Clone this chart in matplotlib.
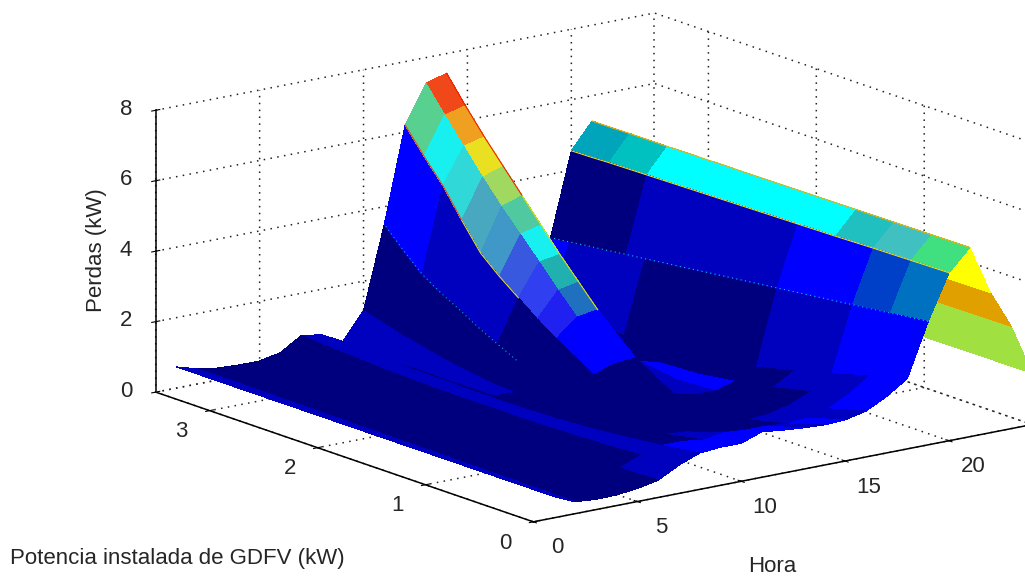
import numpy as np
import matplotlib
matplotlib.use('Agg')
import matplotlib.pyplot as plt
from matplotlib.colors import to_rgba

plt.rcParams['font.family'] = ['Liberation Sans', 'DejaVu Sans']

# hour of day and installed PV power
hours = list(range(1, 25))
power = [0, 0.35, 0.7, 1.05, 1.4, 1.75, 2.1, 2.275, 2.45, 2.625, 2.8, 2.975, 3.15, 3.325, 3.5]

# losses (kW), one row per hour, columns follow power
losses = [
    [0.60, 0.60, 0.60, 0.60, 0.60, 0.60, 0.60, 0.60, 0.60, 0.60, 0.60, 0.60, 0.60, 0.60, 0.60],
    [0.34, 0.35, 0.36, 0.37, 0.38, 0.39, 0.40, 0.40, 0.41, 0.41, 0.42, 0.42, 0.43, 0.43, 0.43],
    [0.29, 0.29, 0.30, 0.30, 0.31, 0.31, 0.32, 0.32, 0.32, 0.32, 0.33, 0.33, 0.33, 0.34, 0.34],
    [0.30, 0.30, 0.30, 0.30, 0.30, 0.30, 0.30, 0.30, 0.30, 0.30, 0.31, 0.31, 0.31, 0.31, 0.31],
    [0.37, 0.36, 0.35, 0.34, 0.33, 0.32, 0.31, 0.31, 0.31, 0.31, 0.31, 0.31, 0.31, 0.31, 0.31],
    [0.49, 0.47, 0.45, 0.43, 0.42, 0.42, 0.42, 0.42, 0.42, 0.42, 0.42, 0.42, 0.43, 0.43, 0.43],
    [0.80, 0.72, 0.66, 0.62, 0.60, 0.60, 0.60, 0.61, 0.62, 0.64, 0.66, 0.69, 0.72, 0.76, 0.80],
    [1.03, 0.88, 0.76, 0.66, 0.60, 0.58, 0.58, 0.59, 0.60, 0.61, 0.62, 0.64, 0.66, 0.68, 0.71],
    [1.08, 0.88, 0.68, 0.52, 0.42, 0.36, 0.33, 0.32, 0.32, 0.32, 0.33, 0.34, 0.36, 0.38, 0.40],
    [1.08, 0.80, 0.60, 0.42, 0.30, 0.25, 0.30, 0.34, 0.40, 0.49, 0.60, 0.72, 0.85, 1.00, 1.16],
    [1.29, 0.90, 0.55, 0.35, 0.30, 0.40, 0.70, 0.93, 1.20, 1.48, 1.80, 2.10, 2.45, 2.95, 3.50],
    [1.22, 0.85, 0.55, 0.35, 0.50, 0.95, 1.60, 1.98, 2.40, 2.82, 3.30, 4.05, 4.85, 5.50, 6.20],
    [1.17, 0.85, 0.58, 0.42, 0.55, 1.15, 2.10, 2.68, 3.30, 3.90, 4.50, 5.15, 5.85, 6.55, 7.27],
    [1.14, 0.80, 0.55, 0.40, 0.55, 1.20, 2.20, 2.80, 3.40, 4.05, 4.70, 5.35, 6.00, 6.70, 7.44],
    [1.17, 0.85, 0.60, 0.40, 0.40, 0.55, 1.00, 1.33, 1.70, 2.13, 2.60, 3.03, 3.50, 4.00, 4.50],
    [1.30, 1.00, 0.75, 0.55, 0.40, 0.35, 0.50, 0.63, 0.80, 0.99, 1.20, 1.44, 1.70, 2.03, 2.40],
    [1.60, 1.30, 1.00, 0.75, 0.55, 0.40, 0.35, 0.35, 0.35, 0.39, 0.45, 0.52, 0.60, 0.74, 0.90],
    [2.00, 1.70, 1.40, 1.10, 0.85, 0.65, 0.50, 0.47, 0.45, 0.45, 0.45, 0.47, 0.50, 0.55, 0.60],
    [3.50, 3.37, 3.24, 3.11, 2.98, 2.85, 2.72, 2.65, 2.59, 2.52, 2.46, 2.39, 2.33, 2.26, 2.20],
    [4.77, 4.75, 4.73, 4.70, 4.68, 4.66, 4.64, 4.63, 4.62, 4.61, 4.60, 4.59, 4.58, 4.56, 4.55],
    [5.37, 5.36, 5.35, 5.34, 5.33, 5.32, 5.31, 5.31, 5.30, 5.30, 5.29, 5.29, 5.29, 5.28, 5.28],
    [3.97, 3.96, 3.96, 3.95, 3.95, 3.94, 3.93, 3.93, 3.93, 3.92, 3.92, 3.92, 3.91, 3.91, 3.90],
    [2.90, 2.89, 2.88, 2.87, 2.86, 2.85, 2.84, 2.84, 2.83, 2.83, 2.82, 2.82, 2.81, 2.81, 2.80],
    [1.45, 1.45, 1.44, 1.44, 1.43, 1.43, 1.42, 1.42, 1.42, 1.42, 1.41, 1.41, 1.41, 1.41, 1.40],
]

# colour of each cell, one letter per power step, see palette
cell_codes = [
    'dddddddddddddd', 'nnnnnnnnnnnnnn', 'nnnnnnnnnnnnnn', 'nnnnnnnnnnnnnn', 'nnnnnnnnnnnnnn',
    'dnnnnnnnnnnnnn', 'dddddddddddddd', 'bnnnnnnnnndddd', 'bnnnnndddddddd', 'bdnnnnnnnnnnnn',
    'bnnnnnnnddddbb', 'bnnnnbHGFEDCBA', 'dnnnnbTSRQPONM', 'bdnnddkkkkkkkk', 'ddnnddbbbbbbbb',
    'bdnnbbnnnnnnnn', 'bddnnnnnnnnnnn', 'bbddnnnnnddddb', 'mqbbddddddnnnn', 'xwvcccccccuutt',
    'yyyyyyyyyyyyyy', 'oooooooooooooo', 'llllllllllllll',
]
palette = {
    'n': '#00007f', 'd': '#0000bf', 'b': '#0000ff', 'c': '#00ffff', 'k': '#2098b4',
    'A': '#58d090', 'B': '#18f0f0', 'C': '#30d8d8', 'D': '#48a8c0',
    'E': '#4098c8', 'F': '#3858e0', 'G': '#3040f0', 'H': '#2020f0',
    'M': '#f04818', 'N': '#f0a020', 'O': '#e8e020', 'P': '#a0d860',
    'Q': '#50c8a0', 'R': '#18f0f0', 'S': '#20b0b0', 'T': '#2070c0',
    't': '#00a5bb', 'u': '#00c0c0', 'v': '#20c0c0', 'w': '#40c0c0',
    'x': '#40e080', 'y': '#ffff00', 'o': '#e0a000', 'l': '#a0e040',
    'm': '#0070c0', 'q': '#0040c8',
}

# thin rims on the ridges: hour row, first and last power column, colour
rims = [
    (21, 0, 14, '#f0b000', '-'),
    (20, 0, 14, '#e8e020', '-'),
    (19, 0, 14, '#00c8e8', (0, (1, 3))),
    (14, 10, 14, '#f02000', '-'),
    (14, 6, 10, '#d8e000', '-'),
    (12, 11, 14, '#f04010', '-'),
    (12, 8, 11, '#e8e020', '-'),
    (11, 7, 14, '#00a8e0', (0, (1, 3))),
]

hour_ticks = [0, 5, 10, 15, 20]
power_ticks = [0, 1, 2, 3]
loss_ticks = [0, 2, 4, 6, 8]
hour_max, power_max, loss_max = 24, 3.5, 8

fig = plt.figure(figsize=(10.25, 5.76), dpi=100)
ax = fig.add_axes([0.126, -0.271, 0.883, 1.571], projection='3d', proj_type='ortho',
                  computed_zorder=False)
ax.view_init(elev=15, azim=-127)
ax.set_box_aspect((625, 628, 292))

X, Y = np.meshgrid(hours, power, indexing='ij')
Z = np.array(losses)
colors = np.array([[to_rgba(palette[c]) for c in row] for row in cell_codes])
ax.plot_surface(X, Y, Z, facecolors=colors, rstride=1, cstride=1, shade=False,
                linewidth=0, antialiased=False, zorder=1)

for hour, first, last, color, style in rims:
    i = hours.index(hour)
    ax.plot(X[i, first:last + 1], Y[i, first:last + 1], Z[i, first:last + 1],
            color=color, linewidth=0.8, linestyle=style, zorder=2)

ax.set_xlim(0, hour_max, view_margin=0)
ax.set_ylim(0, power_max, view_margin=0)
ax.set_zlim(0, loss_max, view_margin=0)
ax.set_xticks(hour_ticks)
ax.set_yticks(power_ticks)
ax.set_zticks(loss_ticks)
ax.zaxis.set_ticks_position('upper')

grid_style = (0, (1, 3.5))
for axis in (ax.xaxis, ax.yaxis, ax.zaxis):
    axis.set_pane_color((1, 1, 1, 0))
    axis.pane.set_edgecolor('none')
    axis.line.set_color('black')
    axis.line.set_linewidth(1.1)
    axis._axinfo['grid'].update(color='#222222', linewidth=1.1, linestyle=grid_style)
    axis._axinfo['tick'].update(inward_factor=0.1, outward_factor=0.1)
ax.tick_params(labelsize=16, labelcolor='#262626', color='black')
ax.tick_params(axis='x', pad=13.5)
ax.tick_params(axis='y', pad=11)
for label in ax.get_xticklabels() + ax.get_yticklabels() + ax.get_zticklabels():
    label.set_va('center')

# dotted box edges that have no tick
box_edges = [
    ([hour_max, hour_max], [power_max, power_max], [0, loss_max]),
    ([hour_max, hour_max], [0, 0], [0, loss_max]),
    ([0, hour_max], [power_max, power_max], [0, 0]),
    ([hour_max, hour_max], [0, power_max], [0, 0]),
]
for ex, ey, ez in box_edges:
    ax.plot(ex, ey, ez, color='#222222', linewidth=1.1, linestyle=grid_style, zorder=0)

fig.text(0.0095, 0.031, 'Potencia instalada de GDFV (kW)', fontsize=16, color='#262626', ha='left', va='center')
fig.text(0.753, 0.016, 'Hora', fontsize=16, color='#262626', ha='center', va='center')
fig.text(0.094, 0.565, 'Perdas (kW)', fontsize=16, color='#262626', rotation=90, ha='center', va='center')

fig.savefig('out.png', dpi=100)
